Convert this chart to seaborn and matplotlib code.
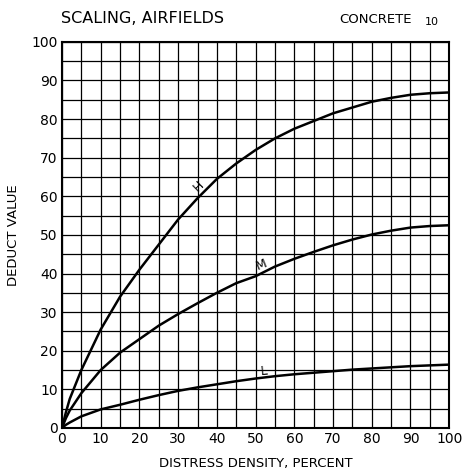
import numpy as np
import pandas as pd
import seaborn as sns
import matplotlib.pyplot as plt

# (distress density % -> deduct value)
density = [0, 1, 2, 5, 10, 15, 20, 25, 30, 35, 40, 45, 50, 55, 60, 65, 70, 75, 80, 85, 90, 95, 100]
high = [0, 4, 7.5, 15, 25.5, 34, 41, 47.5, 54, 59.5, 64.5, 68.5, 72, 75, 77.5, 79.5, 81.5, 83, 84.5, 85.5, 86.3, 86.7, 86.9]
medium = [0, 2.5, 4.5, 9, 15, 19.5, 23, 26.5, 29.5, 32.3, 35, 37.5, 39.3, 41.8, 43.8, 45.6, 47.3, 48.8, 50.1, 51.1, 51.9, 52.3, 52.5]
low = [0, 0.8, 1.4, 3, 4.8, 6, 7.3, 8.5, 9.6, 10.5, 11.3, 12.1, 12.8, 13.4, 13.9, 14.3, 14.7, 15.1, 15.4, 15.7, 16, 16.2, 16.4]

grid_pos = np.arange(0, 101, 5)

sns.set_style("white")
plt.rcParams["font.family"] = ["DejaVu Sans"]
plt.rcParams["text.color"] = "black"
plt.rcParams["axes.labelcolor"] = "black"
plt.rcParams["xtick.color"] = "black"
plt.rcParams["ytick.color"] = "black"

fig = plt.figure(figsize=(4.66, 4.76), dpi=100)
ax = fig.add_axes([0.133, 0.101, 0.831, 0.811])

for yy in [high, medium, low]:
    sns.lineplot(x=density, y=yy, ax=ax, color="black", lw=1.8)

ax.set_xlim(0, 100)
ax.set_ylim(0, 100)
ax.set_xticks(grid_pos)
ax.set_yticks(grid_pos)
ax.grid(True, color="black", lw=0.9)
ax.set_xticklabels([str(v) if v % 10 == 0 else "" for v in grid_pos], fontsize=10)
ax.set_yticklabels([str(v) if v % 10 == 0 else "" for v in grid_pos], fontsize=10)
ax.tick_params(length=0, pad=3)
for s in ax.spines.values():
    s.set_color("black")
    s.set_linewidth(1.5)

ax.set_xlabel("DISTRESS DENSITY, PERCENT", fontsize=9.5, labelpad=8)
ax.set_ylabel("DEDUCT VALUE", fontsize=9.5, labelpad=8)

# curve labels
ax.text(35.3, 62.5, "H", fontsize=9, rotation=45, ha="center", va="center")
ax.text(51.5, 42.3, "M", fontsize=9, rotation=22, ha="center", va="center")
ax.text(52.2, 14.8, "L", fontsize=9, rotation=5, ha="center", va="center")

fig.text(0.13, 0.962, "SCALING, AIRFIELDS", fontsize=11.5, ha="left", va="center")
fig.text(0.728, 0.958, "CONCRETE", fontsize=9.5, ha="left", va="center")
fig.text(0.912, 0.954, "10", fontsize=8, ha="left", va="center")

fig.savefig("out.png", dpi=100)
